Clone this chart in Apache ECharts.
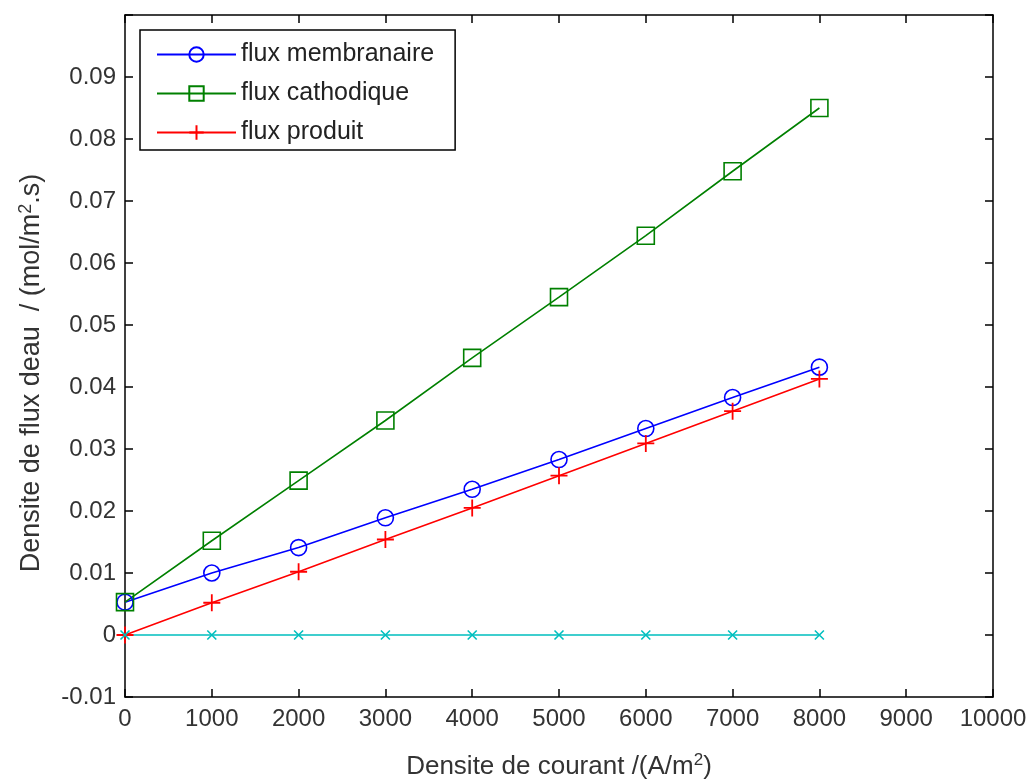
<!DOCTYPE html>
<html>
<head>
<meta charset="utf-8">
<script src="https://cdn.jsdelivr.net/npm/echarts@6/dist/echarts.min.js"></script>
<style>
  html, body { margin: 0; padding: 0; background: #fff; }
  #main { width: 1031px; height: 779px; }
</style>
</head>
<body>
<div id="main"></div>
<script>
// courant (A/m2)
const courant = [0, 1000, 2000, 3000, 4000, 5000, 6000, 7000, 8000];
const fluxMembranaire = [0.0053, 0.0100, 0.0141, 0.0189, 0.0235, 0.0283, 0.0333, 0.0383, 0.0432];
const fluxCathodique = [0.0053, 0.0152, 0.0249, 0.0346, 0.0447, 0.0545, 0.0644, 0.0748, 0.0850];
const fluxProduit = [0, 0.0052, 0.0102, 0.0154, 0.0205, 0.0257, 0.0309, 0.0361, 0.0413];
const fluxZero = [0, 0, 0, 0, 0, 0, 0, 0, 0];

const toPairs = (ys) => courant.map((x, i) => [x, ys[i]]);

let chart = echarts.init(document.getElementById('main'));
const font = 'Liberation Sans, Arial, sans-serif';
const axisCommon = {
    axisLine: { show: true, onZero: false, lineStyle: { color: '#000', width: 1.5 } },
    axisTick: { show: true, inside: true, length: 8, lineStyle: { color: '#000', width: 1.5 } },
    splitLine: { show: false }
};

const option = {
    backgroundColor: '#fff',
    animation: false,
    grid: { left: 125, right: 38, top: 15, bottom: 82, outerBoundsMode: 'none' },
    legend: {
        data: ['flux membranaire', 'flux cathodique', 'flux produit'],
        orient: 'vertical',
        left: 140,
        top: 30,
        padding: [12, 21, 5, 16],
        itemWidth: 79,
        itemHeight: 18,
        itemGap: 14,
        borderColor: '#000',
        borderWidth: 1.5,
        backgroundColor: '#fff',
        textStyle: { fontFamily: font, fontSize: 25, color: '#222' }
    },
    xAxis: [
        Object.assign({
            type: 'value', min: 0, max: 10000, interval: 1000,
            name: 'Densite de courant /(A/m{sup|2})',
            nameLocation: 'middle', nameGap: 55,
            nameTextStyle: {
                fontFamily: font, fontSize: 26, color: '#333',
                rich: { sup: { fontSize: 17, padding: [0, 0, 12, 0], fontFamily: font, color: '#333' } }
            },
            axisLabel: {
                fontFamily: font, fontSize: 24, color: '#333', margin: 10,
                formatter: function (v) { return String(v); }
            }
        }, axisCommon),
        Object.assign({
            type: 'value', min: 0, max: 10000, interval: 1000, position: 'top',
            axisLabel: { show: false }
        }, axisCommon)
    ],
    yAxis: [
        Object.assign({
            type: 'value', min: -0.01, max: 0.1, interval: 0.01,
            name: 'Densite de flux deau  / (mol/m{sup|2}.s)',
            nameLocation: 'middle', nameGap: 78, nameRotate: 90,
            nameTextStyle: {
                fontFamily: font, fontSize: 27, color: '#333',
                padding: [0, 34, 0, 0],
                rich: { sup: { fontSize: 18, padding: [0, 0, 12, 0], fontFamily: font, color: '#333' } }
            },
            axisLabel: {
                fontFamily: font, fontSize: 24, color: '#333', margin: 9,
                formatter: function (v) {
                    if (v > 0.095) return '';
                    return Math.abs(v) < 1e-9 ? '0' : String(Math.round(v * 100) / 100);
                }
            }
        }, axisCommon),
        Object.assign({
            type: 'value', min: -0.01, max: 0.1, interval: 0.01, position: 'right',
            axisLabel: { show: false }
        }, axisCommon)
    ],
    series: [
        {
            name: 'flux membranaire', type: 'line', data: toPairs(fluxMembranaire),
            color: '#0000ff',
            symbol: 'circle', symbolSize: 16,
            lineStyle: { color: '#0000ff', width: 1.6 },
            itemStyle: { color: 'transparent', borderColor: '#0000ff', borderWidth: 1.6 }
        },
        {
            name: 'flux cathodique', type: 'line', data: toPairs(fluxCathodique),
            color: '#008000',
            symbol: 'path://M0,0 L10,0 L10,10 L0,10 Z', symbolSize: 17,
            lineStyle: { color: '#008000', width: 1.6 },
            itemStyle: { color: 'transparent', borderColor: '#008000', borderWidth: 1.6 }
        },
        {
            name: 'flux produit', type: 'line', data: toPairs(fluxProduit),
            color: '#ff0000',
            symbol: 'path://M0,-10 L0,10 M-10,0 L10,0', symbolSize: 17,
            lineStyle: { color: '#ff0000', width: 1.6 },
            itemStyle: { color: 'transparent', borderColor: '#ff0000', borderWidth: 1.8 }
        },
        {
            name: 'zero', type: 'line', data: toPairs(fluxZero),
            color: '#00bfbf',
            symbol: 'path://M-10,-10 L10,10 M-10,10 L10,-10', symbolSize: 9,
            lineStyle: { color: '#00bfbf', width: 1.6 },
            itemStyle: { color: 'transparent', borderColor: '#00bfbf', borderWidth: 1.6 }
        }
    ]
};

chart.setOption(option);

window.onresize = function () {
    chart.resize();
};
</script>
</body>
</html>
